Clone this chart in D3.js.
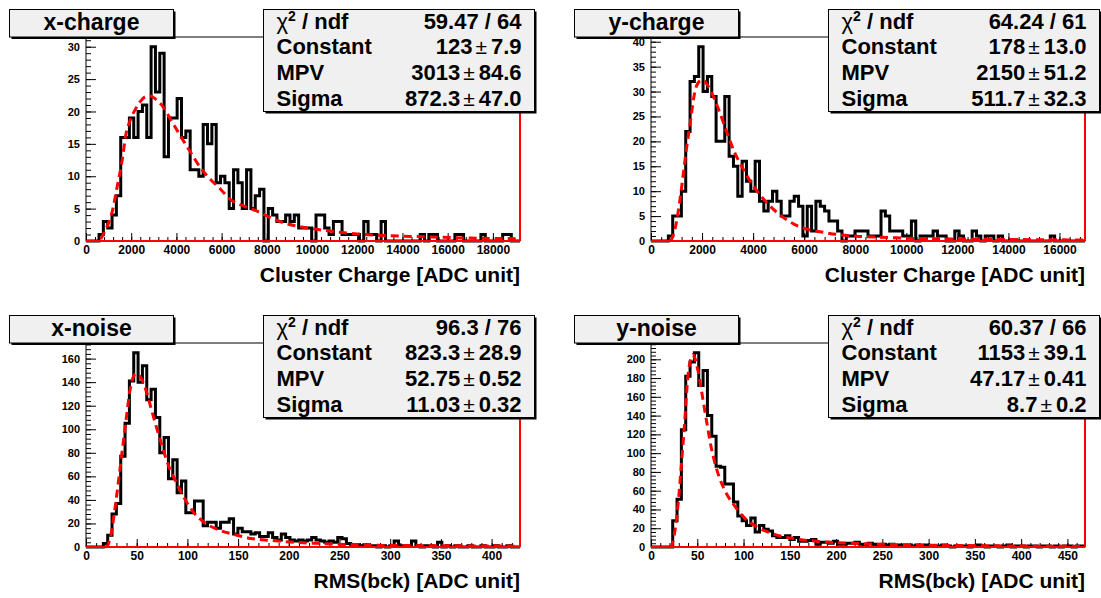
<!DOCTYPE html>
<html><head><meta charset="utf-8">
<script src="https://cdn.jsdelivr.net/npm/d3@7"></script>
<style>
body{margin:0;background:#fff}
svg{display:block}
</style>
</head><body>
<svg id="c" width="1101" height="598"></svg>
<script>
// ---------------- DATA ----------------
// 100 bins each, spanning the range below
const xChargeCounts = [0,0,0,1,3,2,4,7,16,16,
 19,16,20,21,16,30,23,29,13,19,
 19,22,16,17,11,11,10,18,15,18,
 9,10,9,5,11,9,5,11,5,7,
 8,0,5,4,3,3,4,3,4,2,
 2,2,0,4,4,2,1,3,3,1,
 1,1,1,0,3,1,1,0,3,0,
 0,0,0,0,0,0,0,1,0,1,
 1,0,0,0,0,1,1,0,0,0,
 0,1,0,0,0,0,1,1,0,0];
const yChargeCounts = [0,0,0,0,1,5,5,10,22,32,
 33,39,30,33,29,20,20,29,17,15,
 9,16,12,10,16,8,6,8,10,8,
 5,5,8,9,7,1,7,2,8,7,
 6,4,4,2,0,1,1,2,2,2,
 1,1,1,6,5,2,2,2,1,1,
 4,0,1,1,1,2,1,1,0,0,
 2,1,0,0,2,1,0,1,1,0,
 1,0,0,0,0,0,0,0,0,0,
 0,0,1,0,0,0,0,0,0,0];
const xNoiseCounts = [0,0,0,0,3,10,28,37,77,105,
 141,165,140,154,125,134,110,80,93,58,
 74,46,56,29,29,39,39,18,21,21,
 16,21,21,24,11,16,13,13,11,12,
 9,9,12,8,6,11,8,6,5,6,
 5,6,8,6,5,4,5,4,8,7,
 3,2,2,1,2,1,1,0,1,0,
 1,5,1,1,1,5,1,0,1,1,
 0,4,0,1,0,1,0,0,1,0,
 0,1,0,0,1,0,0,1,0,0];
const yNoiseCounts = [0,0,0,0,0,28,51,125,182,197,
 207,172,188,140,118,86,85,67,67,48,
 33,28,23,31,16,23,19,17,12,10,
 10,12,8,10,6,6,7,8,3,5,
 5,4,6,3,3,4,4,5,3,2,
 4,3,2,3,2,3,1,2,2,2,
 1,2,1,2,1,1,1,2,1,0,
 1,1,1,0,1,2,1,0,1,1,
 0,1,2,0,1,1,0,1,1,0,
 1,1,0,1,0,1,1,0,1,1];

const xChargeRange = [0, 19200];
const yChargeRange = [0, 17000];
const xNoiseRange  = [0, 428];
const yNoiseRange  = [0, 469];

// fitted Landau curves
const xChargeFitX = [650,722,943,1164,1385,1606,1753,1974,2195,2416,2637,2858,3079,3373,3741,4183,4625,5067,5509,5951,6393,6982,7571,8160,8750,9486,10222,11106,11990,12874,15000,17000,19200];
const xChargeFitY = [0.3,0.77,2.3,4.6,8.5,12.6,16.2,18.8,20.4,21.6,22.3,22.4,21.9,20.9,18.8,16.2,13.7,11.3,9.5,8.0,6.4,5.4,4.6,3.6,2.8,2.2,1.8,1.4,1.1,0.9,0.65,0.45,0.35];
const yChargeFitX = [750,798,994,1190,1386,1517,1713,1909,2040,2236,2497,2693,3020,3281,3543,3804,4197,4589,5111,5634,6157,6680,7465,8249,9294,10340,12000,14000,17000];
const yChargeFitY = [0,0.3,3.7,10.4,18.4,23,29.8,32.1,32.3,31.1,28.4,25.8,21.1,17.7,15.1,12.7,9.7,7.4,5.0,3.3,2.3,1.8,1.2,0.9,0.7,0.5,0.4,0.3,0.2];
const xNoiseFitX = [19,21,24.3,29.3,34.2,39.1,44,49,53.9,58.8,63.8,68.7,75.3,81.9,88.4,96.6,106.5,116.4,129.5,146,162.4,182.1,201.9,228.2,261,287.3,340,428];
const xNoiseFitY = [0,0.8,9.3,37.5,71,105,136,147,144,134,119,104,85,68,56,42,29,21,15,10.7,7.3,5.6,4.2,3.1,2,1.4,1.1,0.7];
const yNoiseFitX = [20,21.9,25.5,29.1,32.7,36.3,39.9,43.5,45.3,47.1,50.7,54.3,59.7,65.1,72.2,79.4,90.2,101,115.4,133.4,154.9,183.7,219.6,266.3,313,400,469];
const yNoiseFitY = [0,1,15,44,86,132,182,202,205,202,188,168,136,106,79,61,44,31,21,13.5,8.9,5.7,3.9,2.5,1.8,1.0,0.6];

// tick labels
const xChargeXTicks = [0,2000,4000,6000,8000,10000,12000,14000,16000,18000];
const xChargeYTicks = [0,5,10,15,20,25,30];
const yChargeXTicks = [0,2000,4000,6000,8000,10000,12000,14000,16000];
const yChargeYTicks = [0,5,10,15,20,25,30,35,40];
const xNoiseXTicks  = [0,50,100,150,200,250,300,350,400];
const xNoiseYTicks  = [0,20,40,60,80,100,120,140,160];
const yNoiseXTicks  = [0,50,100,150,200,250,300,350,400,450];
const yNoiseYTicks  = [0,20,40,60,80,100,120,140,160,180,200];

// titles & stats
const titles = ["x-charge","y-charge","x-noise","y-noise"];
const axisTitles = ["Cluster Charge [ADC unit]","Cluster Charge [ADC unit]","RMS(bck) [ADC unit]","RMS(bck) [ADC unit]"];
const chi2Values = ["59.47 / 64","64.24 / 61","96.3 / 76","60.37 / 66"];
const constantValues = [["123","7.9"],["178","13.0"],["823.3","28.9"],["1153","39.1"]];
const mpvValues = [["3013","84.6"],["2150","51.2"],["52.75","0.52"],["47.17","0.41"]];
const sigmaValues = [["872.3","47.0"],["511.7","32.3"],["11.03","0.32"],["8.7","0.2"]];

// ---------------- DRAWING ----------------
const FONT = '"Liberation Sans", Arial, Helvetica, sans-serif';
const svg = d3.select("#c");

const panels = [
  {counts:xChargeCounts, range:xChargeRange, fx:xChargeFitX, fy:xChargeFitY, xt:xChargeXTicks, yt:xChargeYTicks, ymin:1, ox:0,   oy:0},
  {counts:yChargeCounts, range:yChargeRange, fx:yChargeFitX, fy:yChargeFitY, xt:yChargeXTicks, yt:yChargeYTicks, ymin:1, ox:565, oy:0},
  {counts:xNoiseCounts,  range:xNoiseRange,  fx:xNoiseFitX,  fy:xNoiseFitY,  xt:xNoiseXTicks,  yt:xNoiseYTicks,  ymin:4, ox:0,   oy:306},
  {counts:yNoiseCounts,  range:yNoiseRange,  fx:yNoiseFitX,  fy:yNoiseFitY,  xt:yNoiseXTicks,  yt:yNoiseYTicks,  ymin:4, ox:565, oy:306}
];

panels.forEach((p, idx) => {
  const L = 86 + p.ox, R = 520 + p.ox, T = 37 + p.oy, B = 241 + p.oy;
  const g = svg.append("g");
  const x = d3.scaleLinear().domain(p.range).range([L, R]);
  const yMax = d3.max(p.counts) * 1.05;
  const y = d3.scaleLinear().domain([0, yMax]).range([B, T]);

  // frame
  g.append("rect").attr("x", L).attr("y", T).attr("width", R - L).attr("height", B - T)
    .attr("fill", "#fff").attr("stroke", "#000").attr("stroke-width", 1);

  // axes (ticks inside the frame)
  const xMajorStep = p.xt[1] - p.xt[0];
  const yMinor = d3.range(0, yMax, p.ymin);
  const xMinor = d3.range(0, p.range[1], xMajorStep / 5);
  const styleAxis = (sel, size) => {
    sel.select(".domain").remove();
    sel.selectAll("line").attr("stroke", "#000").attr("stroke-width", 1);
    sel.attr("font-family", FONT).attr("font-size", size).attr("font-weight", "bold").attr("fill", "#000");
    sel.selectAll("text").attr("fill", "#000");
  };
  g.append("g").attr("transform", `translate(${L},0)`)
    .call(d3.axisLeft(y).tickValues(yMinor).tickSize(-5).tickFormat(""))
    .call(s => styleAxis(s, 11));
  g.append("g").attr("transform", `translate(${L},0)`)
    .call(d3.axisLeft(y).tickValues(p.yt).tickSize(-10).tickPadding(6).tickFormat(d3.format("d")))
    .call(s => styleAxis(s, 11));
  g.append("g").attr("transform", `translate(0,${B})`)
    .call(d3.axisBottom(x).tickValues(xMinor).tickSize(-4).tickFormat(""))
    .call(s => styleAxis(s, 12));
  g.append("g").attr("transform", `translate(0,${B})`)
    .call(d3.axisBottom(x).tickValues(p.xt).tickSize(-8).tickPadding(4).tickFormat(d3.format("d")))
    .call(s => styleAxis(s, 12));

  // histogram
  const n = p.counts.length;
  const bw = (p.range[1] - p.range[0]) / n;
  const pts = p.counts.map((c, i) => [p.range[0] + i * bw, c]);
  pts.push([p.range[1], p.counts[n - 1]]);
  g.append("path")
    .attr("d", d3.line().x(d => x(d[0])).y(d => y(d[1])).curve(d3.curveStepAfter)(pts))
    .attr("fill", "none").attr("stroke", "#000").attr("stroke-width", 3)
    .attr("stroke-linejoin", "miter");

  // red baseline and right edge
  g.append("line").attr("x1", L).attr("x2", R).attr("y1", y(0)).attr("y2", y(0))
    .attr("stroke", "#ff0000").attr("stroke-width", 2);
  g.append("line").attr("x1", R).attr("x2", R).attr("y1", T).attr("y2", B)
    .attr("stroke", "#ff0000").attr("stroke-width", 2);

  // fit curve
  const fpts = p.fx.map((v, i) => [v, p.fy[i]]);
  g.append("path")
    .attr("d", d3.line().x(d => x(d[0])).y(d => y(d[1])).curve(d3.curveMonotoneX)(fpts))
    .attr("fill", "none").attr("stroke", "#ff0000").attr("stroke-width", 3)
    .attr("stroke-dasharray", "8,5");

  // title box
  const tbx = 9.5 + p.ox, tby = 9.5 + p.oy, tbw = 164, tbh = 27.5;
  g.append("rect").attr("x", tbx + 2).attr("y", tby + 2).attr("width", tbw).attr("height", tbh).attr("fill", "#000");
  g.append("rect").attr("x", tbx).attr("y", tby).attr("width", tbw).attr("height", tbh)
    .attr("fill", "#f0f0f0").attr("stroke", "#000").attr("stroke-width", 1);
  g.append("text").attr("x", tbx + tbw / 2).attr("y", tby + 20.5).attr("text-anchor", "middle")
    .attr("font-family", FONT).attr("font-weight", "bold").attr("font-size", 23).attr("fill", "#000")
    .text(titles[idx]);

  // stats box
  const sbx = 263.5 + p.ox, sby = 9.5 + p.oy, sbw = 271, sbh = 102;
  g.append("rect").attr("x", sbx + 2).attr("y", sby + 2).attr("width", sbw).attr("height", sbh).attr("fill", "#000");
  g.append("rect").attr("x", sbx).attr("y", sby).attr("width", sbw).attr("height", sbh)
    .attr("fill", "#f0f0f0").attr("stroke", "#000").attr("stroke-width", 1);
  const rows = [
    ["chi", chi2Values[idx]],
    ["Constant", constantValues[idx]],
    ["MPV", mpvValues[idx]],
    ["Sigma", sigmaValues[idx]]
  ];
  rows.forEach((r, i) => {
    const by = sby + 19 + i * 25.7;
    const lt = g.append("text").attr("x", sbx + 13).attr("y", by)
      .attr("font-family", FONT).attr("font-weight", "bold").attr("font-size", 22).attr("fill", "#000");
    if (r[0] === "chi") {
      lt.append("tspan").attr("font-weight", "normal").text("\u03C7");
      lt.append("tspan").attr("font-size", 14).attr("dy", -8).text("2");
      lt.append("tspan").attr("dy", 8).text(" / ndf");
    } else {
      lt.text(r[0]);
    }
    const vt = g.append("text").attr("x", sbx + sbw - 13).attr("y", by).attr("text-anchor", "end")
      .attr("font-family", FONT).attr("font-weight", "bold").attr("font-size", 22).attr("fill", "#000");
    if (Array.isArray(r[1])) {
      vt.append("tspan").text(r[1][0]);
      vt.append("tspan").attr("dx", 3).attr("font-weight", "normal").attr("font-size", 21).text("\u00B1");
      vt.append("tspan").attr("dx", 4).text(r[1][1]);
    } else {
      vt.text(r[1]);
    }
  });

  // x axis title
  g.append("text").attr("x", R).attr("y", B + 41).attr("text-anchor", "end")
    .attr("font-family", FONT).attr("font-weight", "bold").attr("font-size", 21).attr("fill", "#000")
    .text(axisTitles[idx]);
});
</script>
</body></html>
